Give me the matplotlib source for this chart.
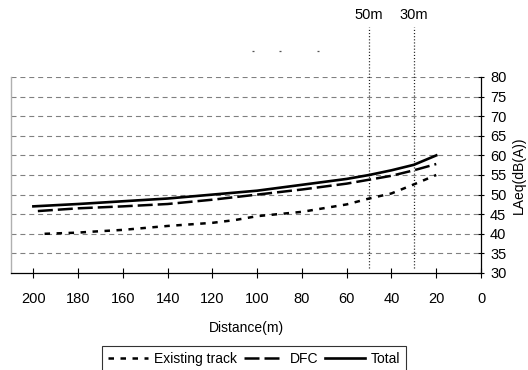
import matplotlib
matplotlib.use("Agg")
import matplotlib.pyplot as plt

plt.rcParams["font.family"] = ["Liberation Sans", "DejaVu Sans"]

# Noise level (LAeq) versus distance from the track
existing_x = [195, 180, 175, 160, 140, 120, 110, 100, 80, 60, 50, 40, 30, 20]
existing_y = [40.0, 40.3, 40.5, 41.0, 42.0, 42.8, 43.5, 44.5, 45.6, 47.5, 49.0, 50.3, 52.6, 55.0]

dfc_x = [198, 180, 160, 140, 120, 100, 80, 60, 50, 40, 30, 20]
dfc_y = [45.8, 46.5, 47.0, 47.6, 48.7, 50.0, 51.3, 52.8, 53.8, 54.8, 56.2, 57.8]

total_x = [200, 180, 160, 140, 120, 100, 80, 60, 50, 40, 30, 20]
total_y = [47.0, 47.6, 48.3, 49.0, 50.0, 51.0, 52.5, 54.0, 55.0, 56.2, 57.6, 60.0]

x_ticks = [200, 180, 160, 140, 120, 100, 80, 60, 40, 20, 0]
y_ticks = [30, 35, 40, 45, 50, 55, 60, 65, 70, 75, 80]
markers_m = [50, 30]
marker_labels = ["50m", "30m"]

fig = plt.figure(figsize=(5.28, 3.70), dpi=100)
ax = fig.add_axes([11 / 528, 1 - 273 / 370, (481 - 11) / 528, (273 - 77) / 370])

ax.set_xlim(210, 0)
ax.set_ylim(30, 80)

# horizontal dashed gridlines (including the top edge at 80)
for yv in y_ticks[1:]:
    ax.axhline(yv, color="#808080", lw=0.8, linestyle=(0, (4.5, 3.5)), zorder=1)

ax.plot(existing_x, existing_y, color="black", lw=1.8,
        linestyle=(0, (2.2, 2.6)), label="Existing track", zorder=3)
ax.plot(dfc_x, dfc_y, color="black", lw=1.8,
        linestyle=(0, (6.0, 2.0)), label="DFC", zorder=3)
ax.plot(total_x, total_y, color="black", lw=1.9, linestyle="-",
        label="Total", zorder=3)

# reference distances
for xm, lab in zip(markers_m, marker_labels):
    ax.plot([xm, xm], [31.3, 92.8], color="#222222", lw=0.9,
            linestyle=(0, (0.9, 1.6)), clip_on=False, zorder=2)
    ax.text(xm, 95.8, lab, ha="center", va="center", fontsize=10.5,
            clip_on=False)

# small marks above the plot
ax.plot([101.9, 89.9, 72.9], [86.6, 86.6, 86.6], linestyle="none",
        marker="_", ms=2.0, mew=0.9, color="#555555", clip_on=False)

ax.set_xticks(x_ticks)
ax.set_xticklabels([str(v) for v in x_ticks])
ax.set_yticks(y_ticks)
ax.set_yticklabels([str(v) for v in y_ticks])
ax.yaxis.tick_right()
ax.yaxis.set_label_position("right")
ax.tick_params(axis="x", direction="inout", length=7, width=0.8, pad=10,
               labelsize=10.5)
ax.tick_params(axis="y", direction="inout", length=5, width=0.8, pad=4,
               labelsize=10.5)

ax.spines["top"].set_visible(False)
ax.spines["left"].set_color("#b0b0b0")
ax.spines["left"].set_linewidth(1.0)
ax.spines["bottom"].set_color("black")
ax.spines["bottom"].set_linewidth(0.9)
ax.spines["right"].set_color("black")
ax.spines["right"].set_linewidth(0.9)

ax.set_xlabel("Distance(m)", fontsize=10, labelpad=11)
ax.set_ylabel("LAeq(dB(A))", fontsize=10, labelpad=4)

leg = fig.legend(loc="upper center", bbox_to_anchor=(254 / 528, 1 - 346 / 370),
                 ncol=3, frameon=True, fancybox=False, fontsize=10,
                 handlelength=2.9, handletextpad=0.4, columnspacing=0.5,
                 borderpad=0.4, borderaxespad=0)
leg.get_frame().set_edgecolor("black")
leg.get_frame().set_linewidth(0.8)

fig.savefig("out.png", dpi=100)
